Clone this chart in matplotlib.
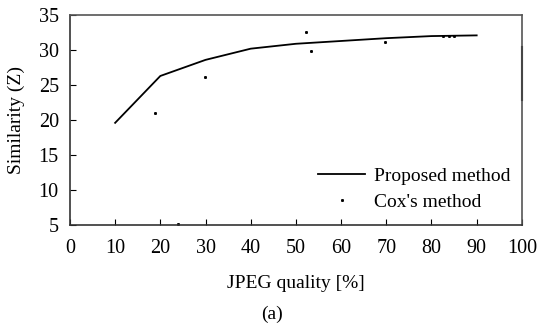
import numpy as np
import matplotlib
matplotlib.use("Agg")
import matplotlib.pyplot as plt

plt.rcParams['font.family'] = ['Liberation Serif', 'DejaVu Serif']

# Proposed method
quality = [10, 20, 30, 40, 50, 60, 70, 80, 90]
proposed = [19.6, 26.3, 28.6, 30.2, 30.9, 31.3, 31.7, 32.0, 32.1]

# Cox's method (scattered dots)
cox_x = [18.9, 24, 29.8, 52.2, 53.3, 69.8, 82.5, 83.8, 85.0]
cox_y = [21.0, 5.2, 26.1, 32.6, 29.9, 31.2, 32.0, 32.0, 32.0]
cox_edge_x = [100, 100]
cox_edge_y = [30.4, 22.9]

xticks = [0, 10, 20, 30, 40, 50, 60, 70, 80, 90, 100]
yticks = [5, 10, 15, 20, 25, 30, 35]

fig = plt.figure(figsize=(5.38, 3.28), dpi=100)
ax = fig.add_axes([0.130, 0.314, 0.840, 0.640])

ax.plot(quality, proposed, color='black', lw=1.3, label='Proposed method')
ax.plot(cox_x, cox_y, ls='none', marker='s', ms=1.1, color='black',
        label="Cox's method")
ax.plot(cox_edge_x, cox_edge_y, color='black', lw=1.5, clip_on=False)

ax.set_xlim(0, 100)
ax.set_ylim(5, 35)
ax.set_xticks(xticks)
ax.set_yticks(yticks)
ax.tick_params(direction='in', length=4, width=0.8, labelsize=14.5)
ax.tick_params(axis='x', pad=10)
ax.tick_params(axis='y', pad=8)
for s in ax.spines.values():
    s.set_color('#555555')
    s.set_linewidth(1.2)
ax.spines['left'].set_color('#333333')
ax.spines['bottom'].set_color('#333333')

ax.set_xlabel('JPEG quality [%]', fontsize=14, labelpad=12)
ax.set_ylabel('Similarity (Z)', fontsize=14, labelpad=10)
fig.text(0.505, 0.042, '(a)', fontsize=14, ha='center', va='center')

ax.legend(loc='lower right', bbox_to_anchor=(1.0, 0.012), frameon=False,
          fontsize=14, handlelength=2.4, handletextpad=0.45, labelspacing=0.43,
          borderaxespad=0.2)

fig.savefig('out.png', dpi=100)
